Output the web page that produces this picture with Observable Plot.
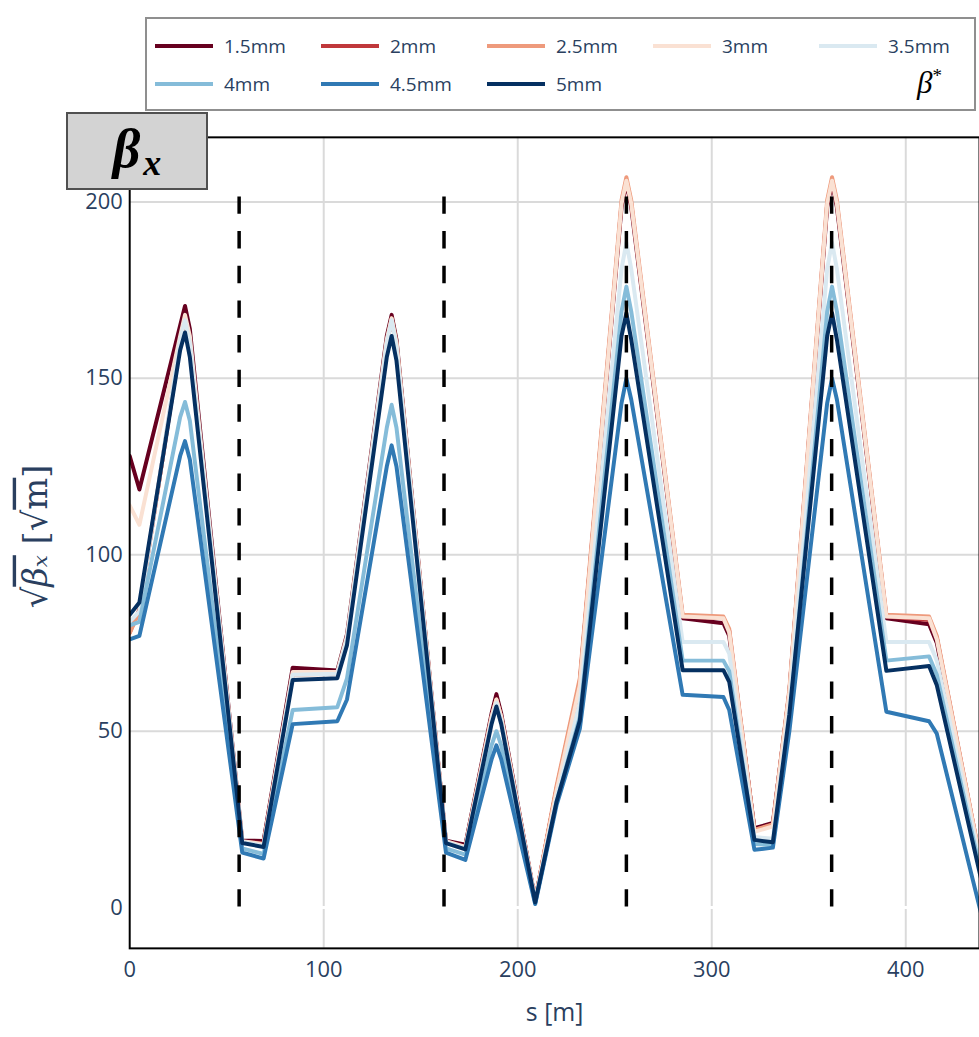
<!DOCTYPE html>
<html><head><meta charset="utf-8">
<script src="https://cdn.jsdelivr.net/npm/d3@7"></script>
<script src="https://cdn.jsdelivr.net/npm/@observablehq/plot@0.6"></script>
<style>
body{margin:0;background:#fff;overflow:hidden}
#wrap{position:relative;width:979px;height:1037px;overflow:hidden;font-family:"Open Sans",sans-serif}
#legend{position:absolute;left:145px;top:17px;width:827px;height:90px;border:2px solid #8f8f8f;background:#fff}
.item{position:absolute;display:flex;align-items:center;height:24px}
.item span{font-size:19px;color:#2a3f5f;margin-left:11px;white-space:nowrap}
#bstar{position:absolute;left:770px;top:46px;font-family:"Liberation Serif",serif;font-style:italic;font-size:31px;color:#000}
#chart{position:absolute;left:0;top:112px}
#tbox{position:absolute;left:66px;top:112px;width:138px;height:74px;background:#d3d3d3;border:2px solid #505050;display:flex;align-items:center;justify-content:center;font-family:"Liberation Serif",serif;font-weight:bold;font-style:italic;color:#000}
</style></head>
<body>
<div id="wrap">
  <div id="legend"></div>
  <div id="chart"></div>
  <div id="tbox"><span style="font-size:54px;position:relative;top:-2px">β</span><span style="font-size:36px;position:relative;top:12px;margin-left:3px">x</span></div>
</div>
<script>
// ---- data ----
const labels = ["1.5mm","2mm","2.5mm","3mm","3.5mm","4mm","4.5mm","5mm"];
const s   = [0, 5, 26, 28.5, 31, 58, 69, 84, 107, 112, 132.5, 135, 137.5, 163, 173, 186.5, 189, 191.5, 209, 220, 232, 253.5, 256, 258.5, 285, 306, 309, 322, 331.5, 340, 359.5, 362, 364.5, 390, 412, 416, 440];
const b15 = [128, 118.5, 165, 170.5, 164, 19, 18.9, 68, 67.2, 77.5, 162, 168, 161, 19, 17.8, 55, 60.5, 55, 2.2, 33.5, 63.5, 198.5, 205.5, 198.5, 82, 80.6, 77, 22.5, 24, 61, 198.5, 205.5, 198.5, 82, 80.3, 75, 8.2];
const b20 = [78, 84.5, 159.5, 165.5, 159, 18.7, 18.2, 66.2, 66.5, 76, 160, 166.5, 159.5, 18.7, 17.2, 54, 59, 54, 2, 33.8, 64, 199.5, 206, 199.5, 82.5, 82, 78.5, 22, 23.5, 61.2, 199.5, 206, 199.5, 82.5, 81.5, 76.5, 9];
const b25 = [77.8, 84, 160, 166, 159.5, 18.6, 18, 66, 66.3, 76, 160.5, 167, 160, 18.6, 17, 54, 59, 54, 2, 34.5, 65, 200.5, 207, 200.5, 83, 82.5, 79, 22, 23.6, 61.8, 200.5, 207, 200.5, 83, 82.5, 77, 9];
const b30 = [114, 108.5, 162, 168, 162, 18.8, 18, 66.8, 66.8, 77, 161, 167, 160, 18.8, 17.2, 54, 59, 54, 2, 33, 63, 199.5, 206, 199.5, 82.5, 82, 78, 21.5, 23, 61, 199.5, 206, 199.5, 82.5, 82, 76, 8.6];
const b35 = [81, 84, 161, 166.5, 160, 18.6, 17.6, 66, 66.3, 76, 160, 166.5, 159, 18.6, 16.8, 53, 58, 53, 1.8, 31, 58, 181, 188.5, 181, 75.3, 75.3, 72, 20, 19.5, 57, 181, 188.5, 181, 75.3, 75.3, 70, 8];
const b40 = [80, 81, 139, 143.3, 138, 16.8, 15.2, 56, 56.8, 65, 136, 142.5, 136, 16.8, 15, 46, 50, 46, 1.2, 30, 54, 169, 176, 169, 70, 70, 67, 18, 17.8, 53, 169, 176, 169, 70, 71.2, 66, 6.6];
const b45 = [76, 77, 128, 132.2, 127, 15.6, 13.9, 52, 52.8, 59, 125, 131, 125, 15.6, 13.5, 42, 46, 42, 1, 29, 50.7, 143, 150, 144, 60.3, 59.7, 56, 16.4, 17, 50, 143, 150, 144, 55.5, 52.8, 49.3, -4.3];
const b50 = [83, 86.5, 158, 163, 156, 18.3, 17.2, 64.5, 65, 74.4, 156, 162, 155, 18.3, 16.5, 52, 57, 52, 1.5, 30, 53, 162, 168.5, 161, 67.3, 67.3, 64, 19.2, 18.5, 54.8, 162, 168.5, 161, 67.1, 68.5, 63, 5.3];
const ipS = [56.4, 162, 256, 361.8];
const xTicks = [0, 100, 200, 300, 400];
const yTicks = [0, 50, 100, 150, 200];

const series = [b15, b20, b25, b30, b35, b40, b45, b50];
const colors = d3.quantize(d3.interpolateRdBu, labels.length);
const data = labels.flatMap((lab, i) => s.map((x, j) => ({s: x, v: series[i][j], beta: lab})));

// ---- legend ----
const leg = document.getElementById("legend");
labels.forEach((lab, i) => {
  const r = Math.floor(i / 5), c = i % 5;
  const d = document.createElement("div");
  d.className = "item";
  d.style.left = (8 + c * 166) + "px";
  d.style.top = (15 + r * 38) + "px";
  d.innerHTML = `<svg width="58" height="8"><line x1="0" y1="4" x2="58" y2="4" stroke="${colors[i]}" stroke-width="4"/></svg><span>${lab}</span>`;
  leg.appendChild(d);
});
const bs = document.createElement("div");
bs.id = "bstar";
bs.innerHTML = 'β<sup style="font-size:19px;font-style:normal">*</sup>';
leg.appendChild(bs);

// ---- plot ----
const chart = Plot.plot({
  width: 985, height: 925,
  marginTop: 25, marginLeft: 130, marginRight: 0, marginBottom: 84,
  style: {fontFamily: "'Open Sans', sans-serif", color: "#2a3f5f", background: "white"},
  x: {domain: [0, 438]},
  y: {domain: [-11.55, 218.3]},
  color: {domain: labels, range: colors},
  marks: [
    Plot.gridX(xTicks.slice(1), {stroke: "#dadada", strokeOpacity: 1, strokeWidth: 2}),
    Plot.gridY(yTicks.slice(1), {stroke: "#dadada", strokeOpacity: 1, strokeWidth: 2}),
    Plot.ruleY([0], {stroke: "white", strokeWidth: 3}),
    Plot.line(data, {x: "s", y: "v", z: "beta", stroke: "beta", strokeWidth: 4, strokeLinejoin: "round", strokeLinecap: "round", clip: true}),
    Plot.ruleX(ipS, {y1: 201.4, y2: 0, stroke: "black", strokeWidth: 3.5, strokeDasharray: "17.5,17.35"}),
    Plot.frame({stroke: "black", strokeWidth: 2}),
    Plot.axisX(xTicks, {tickSize: 0, tickPadding: 13, fontSize: 22, label: null}),
    Plot.axisY(yTicks, {tickSize: 0, tickPadding: 7, fontSize: 22, label: null}),
    Plot.text(["s [m]"], {frameAnchor: "bottom", lineAnchor: "middle", dy: 65, fontSize: 25, fill: "#2a3f5f"})
  ]
});
document.getElementById("chart").appendChild(chart);

// rotated y-axis title
const t = d3.select(chart).append("text")
  .attr("transform", `translate(47,${539 - 112}) rotate(-90)`)
  .attr("text-anchor", "middle")
  .attr("font-family", "'DejaVu Serif', 'Liberation Serif', serif")
  .attr("font-size", 34)
  .attr("fill", "#2a3f5f");
t.append("tspan").text("√");
t.append("tspan").attr("font-style", "italic").style("text-decoration", "overline").text("βₓ");
t.append("tspan").text(" [");
t.append("tspan").text("√");
t.append("tspan").style("text-decoration", "overline").text("m");
t.append("tspan").text("]");
</script>
</body></html>
